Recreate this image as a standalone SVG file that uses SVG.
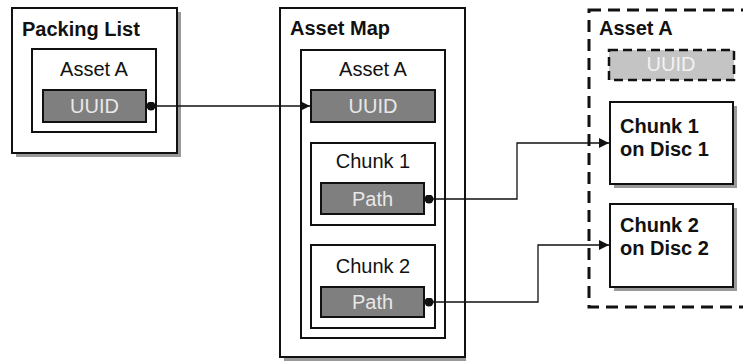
<svg xmlns="http://www.w3.org/2000/svg" width="743" height="362" viewBox="0 0 743 362">
  <style>
    .box { fill: #ffffff; stroke: #111111; stroke-width: 2; }
    .shadow { fill: #999999; }
    .field { fill: #7f7f7f; stroke: #111111; stroke-width: 2; }
    .ghost { fill: #c4c4c4; stroke: #111111; stroke-width: 2.5; stroke-dasharray: 9 5; }
    .group { fill: none; stroke: #111111; stroke-width: 3; stroke-dasharray: 12 7; }
    .title { font-family: "Liberation Sans", Arial, sans-serif; font-size: 20px; font-weight: bold; fill: #111111; }
    .label { font-family: "Liberation Sans", Arial, sans-serif; font-size: 20px; fill: #111111; text-anchor: middle; }
    .flabel { font-family: "Liberation Sans", Arial, sans-serif; font-size: 20px; fill: #e8e8e8; text-anchor: middle; }
    .glabel { font-family: "Liberation Sans", Arial, sans-serif; font-size: 20px; fill: #f2f2f2; text-anchor: middle; }
    .wire { fill: none; stroke: #111111; stroke-width: 1.3; }
  </style>
  <defs>
    <marker id="arrow" viewBox="0 0 10 10" refX="10" refY="5" markerWidth="10" markerHeight="10" markerUnits="userSpaceOnUse" orient="auto">
      <path d="M0,0 L10,5 L0,10 z" fill="#111111"/>
    </marker>
    <marker id="dot" viewBox="0 0 10 10" refX="5" refY="5" markerWidth="9" markerHeight="9" markerUnits="userSpaceOnUse">
      <circle cx="5" cy="5" r="5" fill="#111111"/>
    </marker>
  </defs>

  <!-- Packing List -->
  <g id="packing-list">
    <rect class="shadow" x="16" y="12" width="165" height="145"/>
    <rect class="box" x="12" y="8" width="165" height="145"/>
    <text class="title" x="22" y="36">Packing List</text>
    <g id="pkl-asset">
      <rect class="box" x="32" y="49" width="124" height="83"/>
      <text class="label" x="94" y="76">Asset A</text>
      <rect class="field" x="43" y="90" width="103" height="32"/>
      <text class="flabel" x="94.5" y="113">UUID</text>
    </g>
  </g>

  <!-- Asset Map -->
  <g id="asset-map">
    <rect class="shadow" x="284" y="12" width="182" height="349"/>
    <rect class="box" x="280" y="8" width="185" height="349"/>
    <text class="title" x="290" y="35">Asset Map</text>
    <g id="am-asset">
      <rect class="box" x="301" y="50" width="144" height="288"/>
      <text class="label" x="373" y="76">Asset A</text>
      <rect class="field" x="311" y="90" width="124" height="32"/>
      <text class="flabel" x="373" y="113">UUID</text>
    </g>
    <g id="am-chunk1">
      <rect class="box" x="311" y="143" width="124" height="82"/>
      <text class="label" x="373" y="168">Chunk 1</text>
      <rect class="field" x="321" y="183" width="103" height="31"/>
      <text class="flabel" x="372.5" y="206">Path</text>
    </g>
    <g id="am-chunk2">
      <rect class="box" x="311" y="245" width="124" height="83"/>
      <text class="label" x="373" y="273">Chunk 2</text>
      <rect class="field" x="321" y="287" width="103" height="30"/>
      <text class="flabel" x="372.5" y="309">Path</text>
    </g>
  </g>

  <!-- Asset A on disc -->
  <g id="asset-a">
    <rect class="group" x="589" y="10" width="170" height="297"/>
    <text class="title" x="599" y="35">Asset A</text>
    <g id="ghost-uuid">
      <rect class="ghost" x="609" y="50" width="125" height="30"/>
      <text class="glabel" x="671" y="71">UUID</text>
    </g>
  </g>

  <g id="chunk1-disc1">
    <rect class="shadow" x="614" y="106" width="123" height="82"/>
    <rect class="box" x="610" y="102" width="123" height="82"/>
    <text class="title" x="620" y="133">Chunk 1</text>
    <text class="title" x="620" y="156">on Disc 1</text>
  </g>

  <g id="chunk2-disc2">
    <rect class="shadow" x="614" y="208" width="123" height="83"/>
    <rect class="box" x="610" y="204" width="123" height="83"/>
    <text class="title" x="620" y="232">Chunk 2</text>
    <text class="title" x="620" y="255">on Disc 2</text>
  </g>

  <!-- Connectors -->
  <g id="connectors">
    <path class="wire" d="M151,106 H310" marker-start="url(#dot)" marker-end="url(#arrow)"/>
    <path class="wire" d="M429,199 H517 V143 H609" marker-start="url(#dot)" marker-end="url(#arrow)"/>
    <path class="wire" d="M429,302 H538 V245 H609" marker-start="url(#dot)" marker-end="url(#arrow)"/>
  </g>
</svg>
